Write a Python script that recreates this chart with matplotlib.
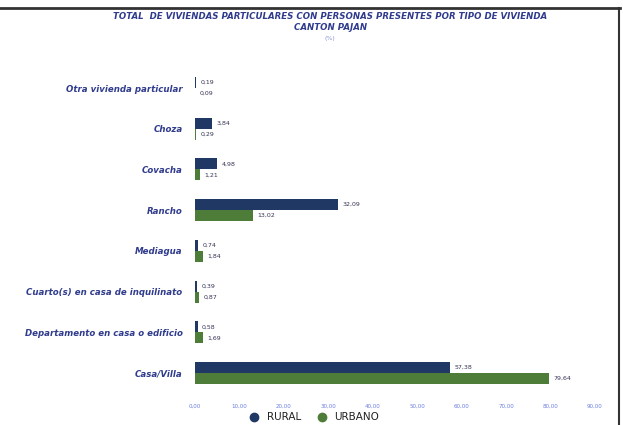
import matplotlib.pyplot as plt
from matplotlib.lines import Line2D
import numpy as np

categorias = ['Otra vivienda particular', 'Choza', 'Covacha', 'Rancho', 'Mediagua',
              'Cuarto(s) en casa de inquilinato', 'Departamento en casa o edificio', 'Casa/Villa']
rural = [0.19, 3.84, 4.98, 32.09, 0.74, 0.39, 0.58, 57.38]
urbano = [0.09, 0.29, 1.21, 13.02, 1.84, 0.87, 1.69, 79.64]
ticks = np.arange(0, 100, 10)

c_rural = '#1f3864'
c_urbano = '#4e7d3a'
c_texto = '#2f3b8c'

fig = plt.figure(figsize=(6.23, 4.25), dpi=100)
ax = fig.add_axes([0.313, 0.0696, 0.642, 0.776])

y = np.arange(len(categorias))
h = 0.27
ax.barh(y - h / 2, rural, height=h, color=c_rural, label='RURAL')
ax.barh(y + h / 2, urbano, height=h, color=c_urbano, label='URBANO')

for i in range(len(categorias)):
    ax.text(rural[i] + 1, y[i] - h / 2, f'{rural[i]:.2f}'.replace('.', ','),
            va='center', ha='left', fontsize=4.5, color='#333355')
    ax.text(urbano[i] + 1, y[i] + h / 2, f'{urbano[i]:.2f}'.replace('.', ','),
            va='center', ha='left', fontsize=4.5, color='#333355')

ax.set_ylim(len(categorias) - 0.45, -0.55)
ax.set_xlim(0, 90)
ax.set_xticks(ticks)
ax.set_xticklabels([f'{t:.2f}'.replace('.', ',') for t in ticks], fontsize=4, color='#6a7de0')
ax.set_yticks(y)
ax.set_yticklabels(categorias, fontsize=6.2, style='italic', fontweight='bold', color=c_texto)
ax.tick_params(length=0, pad=9)
ax.tick_params(axis='x', pad=6)
for s in ax.spines.values():
    s.set_visible(False)

fig.text(0.53, 0.955, 'TOTAL  DE VIVIENDAS PARTICULARES CON PERSONAS PRESENTES POR TIPO DE VIVIENDA',
         ha='center', fontsize=6.2, style='italic', fontweight='bold', color=c_texto)
fig.text(0.53, 0.93, 'CANTON PAJAN', ha='center', fontsize=6.2, style='italic',
         fontweight='bold', color=c_texto)
fig.text(0.53, 0.905, '(%)', ha='center', fontsize=4.5, color='#8a94d0')

handles = [Line2D([], [], marker='o', ls='', color=c_rural, markersize=6),
           Line2D([], [], marker='o', ls='', color=c_urbano, markersize=6)]
fig.legend(handles, ['RURAL', 'URBANO'], loc='center', bbox_to_anchor=(0.5, 0.018),
           ncol=2, frameon=False, fontsize=7.5, handletextpad=0.2, columnspacing=1.0,
           labelcolor='#222222', borderpad=0)

# marco
fig.add_artist(Line2D([0, 0.995], [0.982, 0.982], color='#333333', lw=2, transform=fig.transFigure))
fig.add_artist(Line2D([0.993, 0.993], [0.982, 0.0], color='#333333', lw=1.5, transform=fig.transFigure))

fig.savefig('out.png', dpi=100)
